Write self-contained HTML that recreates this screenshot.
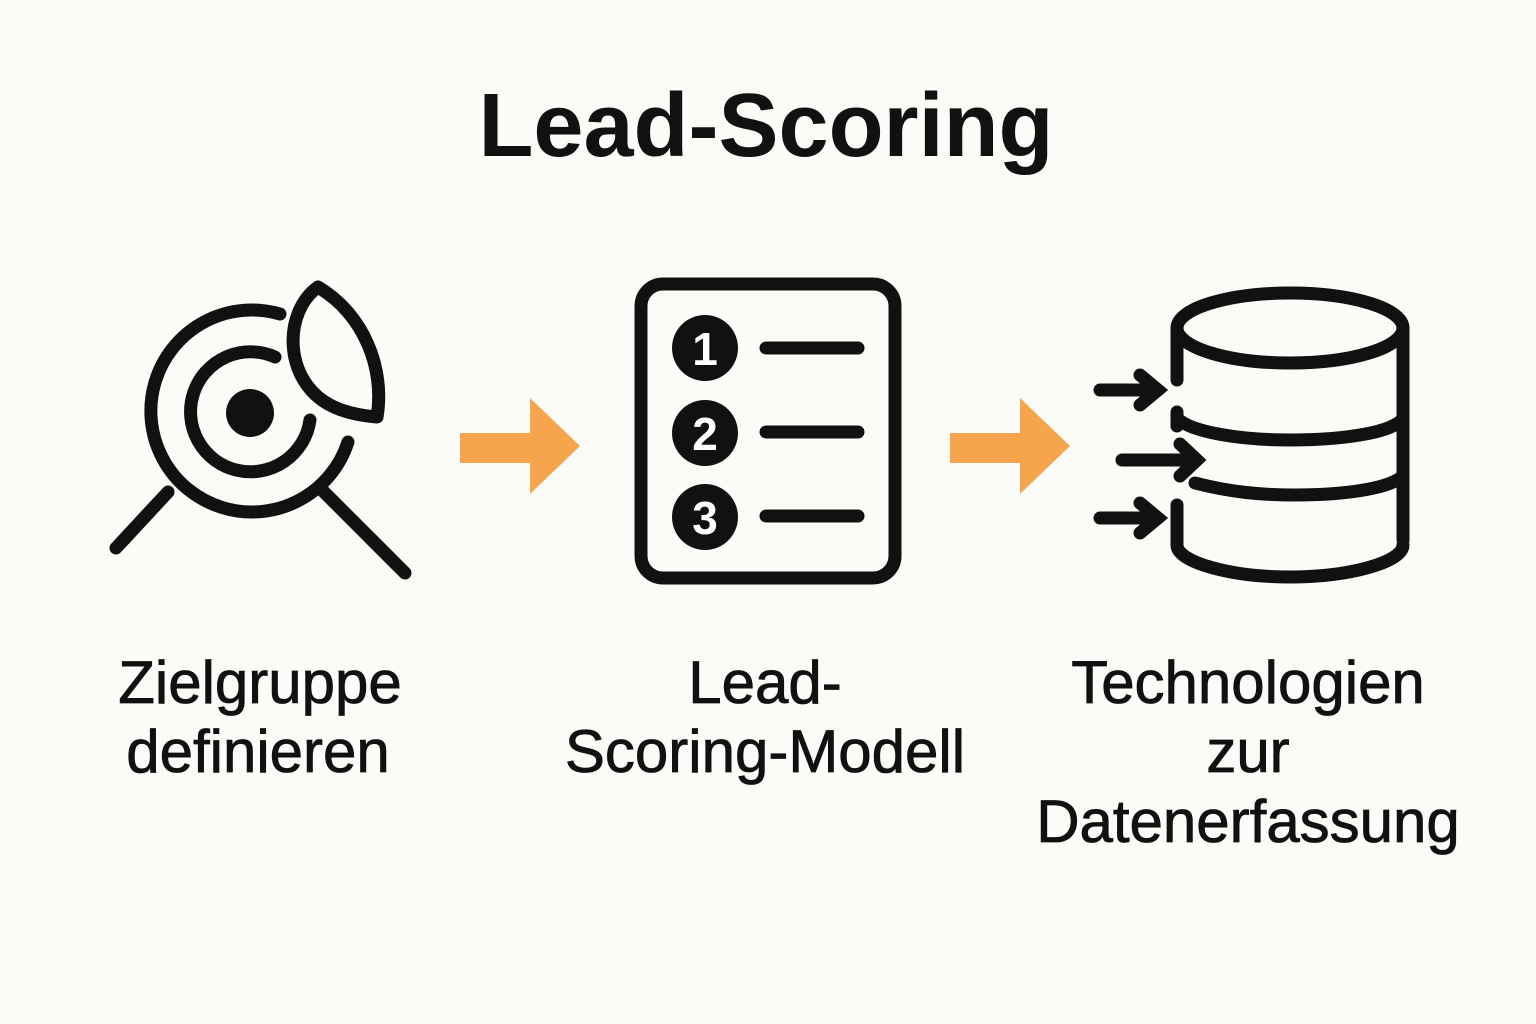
<!DOCTYPE html>
<html><head><meta charset="utf-8"><style>
body{margin:0;background:#fbfbf8;}
svg{display:block}
text{font-family:"Liberation Sans",sans-serif;fill:#111;text-anchor:middle}
</style></head><body>
<svg width="1536" height="1024" viewBox="0 0 1536 1024">
<rect width="1536" height="1024" fill="#fbfbf8"/>
<text x="766" y="156" font-size="90" font-weight="bold">Lead-Scoring</text>
<g fill="none" stroke="#111" stroke-width="13" stroke-linecap="round">
 <path d="M280 314 A101 101 0 1 0 348 442"/>
 <path d="M275 357 A60 60 0 1 0 310 420"/>
 <path d="M318 287 C283 312 283 380 330 405 C345 413 365 416 377 417 C385 370 365 315 318 287 Z" stroke-linejoin="round"/>
 <line x1="168" y1="492" x2="116" y2="548"/>
 <line x1="322" y1="490" x2="405" y2="573"/>
 <rect x="641" y="284" width="254" height="294" rx="22"/>
 <line x1="766" y1="348" x2="858" y2="348"/>
 <line x1="766" y1="432" x2="858" y2="432"/>
 <line x1="766" y1="516" x2="858" y2="516"/>
 <ellipse cx="1290" cy="328" rx="113" ry="35"/>
 <path d="M1177 328 V380 M1177 412 V426 M1403 328 V540 M1177 505 V545 C1177 562 1230 577 1290 577 C1350 577 1403 562 1403 545"/>
 <path d="M1177 418 C1190 432 1240 440 1290 440 C1345 440 1395 432 1403 418"/>
 <path d="M1195 483 C1230 492 1260 495 1295 495 C1350 495 1395 487 1403 475"/>
 <line x1="1100" y1="390" x2="1150" y2="390"/><path d="M1140 375 L1158 390 L1140 405"/>
 <line x1="1122" y1="460" x2="1188" y2="460"/><path d="M1180 444 L1197 460 L1180 476"/>
 <line x1="1100" y1="518" x2="1150" y2="518"/><path d="M1140 503 L1158 518 L1140 533"/>
</g>
<circle cx="250" cy="413" r="24" fill="#111"/>
<g fill="#111">
 <circle cx="705" cy="348" r="33"/><circle cx="705" cy="433" r="33"/><circle cx="705" cy="517" r="33"/>
</g>
<g font-size="46" font-weight="bold">
 <text x="705" y="365" style="fill:#fff">1</text>
 <text x="705" y="450" style="fill:#fff">2</text>
 <text x="705" y="534" style="fill:#fff">3</text>
</g>
<g fill="#f7a54c">
 <rect x="460" y="433" width="72" height="30"/><polygon points="530,398 580,446 530,494"/>
 <rect x="950" y="433" width="72" height="30"/><polygon points="1020,398 1070,446 1020,494"/>
</g>
<g font-size="60" style="font-weight:500" stroke="#111" stroke-width="0.8">
 <text x="260" y="703">Zielgruppe</text>
 <text x="258" y="772">definieren</text>
 <text x="765" y="703">Lead-</text>
 <text x="765" y="772">Scoring-Modell</text>
 <text x="1248" y="703">Technologien</text>
 <text x="1248" y="772">zur</text>
 <text x="1248" y="842">Datenerfassung</text>
</g>
</svg>
</body></html>
